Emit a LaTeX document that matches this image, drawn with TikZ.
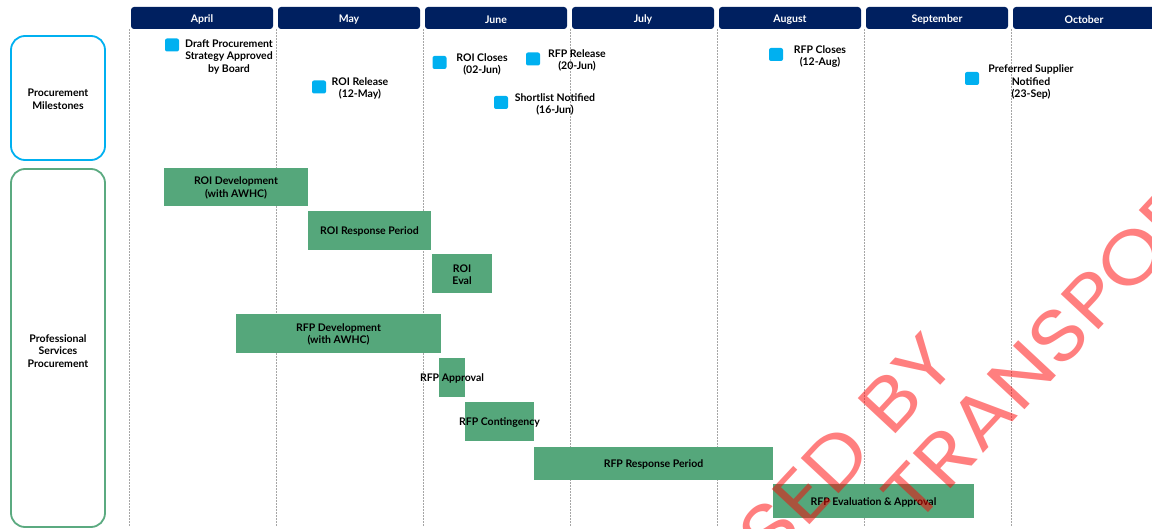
\documentclass[tikz,border=0pt]{standalone}
\usepackage{fontspec}
\setmainfont{Lato}
\newfontfamily\wmfont[FakeStretch=1.14]{Poppins}
\usetikzlibrary{positioning}
\definecolor{hdrnavy}{HTML}{002060}
\definecolor{msblue}{HTML}{00B0F0}
\definecolor{taskgreen}{HTML}{55A77B}
\definecolor{rowgreen}{HTML}{5BAA80}
\begin{document}
\begin{tikzpicture}[x=1pt,y=-1pt,line join=round,
  every node/.style={font=\bfseries\fontsize{10.5}{12.5}\selectfont,align=center,inner sep=0pt},
  lbl/.style={yshift=-1pt},
  month/.style={fill=hdrnavy,text=white,rounded corners=3pt,minimum width=142pt,minimum height=22pt},
  rowbox/.style={draw,line width=1.8pt,rounded corners=14pt,minimum width=94pt},
  msmark/.style={fill=msblue,rounded corners=2pt,minimum width=14pt,minimum height=13pt},
  task/.style={fill=taskgreen},
  grid/.style={gray!70,line width=0.7pt,dash pattern=on 1.5pt off 1.5pt},
  wmark/.style={text=red,text opacity=0.5,font=\wmfont\fontsize{74}{80}\selectfont}]
\useasboundingbox (0,0) rectangle (1152,529);
\clip (0,0) rectangle (1152,529);
% month headers and grid
\foreach \k/\mon in {0/April,1/May,2/June,3/July,4/August,5/September,6/October}{
  \node[month] (m\k) at ({202+147*\k},18) {};
  \node[text=white,yshift=-1.5pt] (m\k-t) at (m\k) {\mon};
  \draw[grid] ([xshift=-1.5pt]m\k.south west) -- ++(0,497);
}
% rows
\node[rowbox,draw=msblue,minimum height=124pt] (ms) at (58,98) {};
\node[lbl] (ms-t) at (ms) {Procurement\\Milestones};
\node[rowbox,draw=rowgreen,minimum height=358pt] (ps) at (58,348) {};
\node[lbl] (ps-t) at (58,350) {Professional\\Services\\Procurement};
% milestones
\foreach \nm/\sx/\sy/\lx/\ly/\txt in {
  draft/172/45/229/56/{Draft Procurement\\Strategy Approved\\by Board},
  roirel/319/87/360/87.5/{ROI Release\\(12-May)},
  roicl/439.5/62.5/482/63.5/{ROI Closes\\(02-Jun)},
  rfprel/533/59/577/59.5/{RFP Release\\(20-Jun)},
  short/501/102.5/555/103.5/{Shortlist Notified\\(16-Jun)},
  rfpcl/776/54.5/820/55.5/{RFP Closes\\(12-Aug)},
  pref/972/78.5/1031/81/{Preferred Supplier\\Notified\\(23-Sep)}}{
  \node[msmark] (\nm) at (\sx,\sy) {};
  \node[lbl] (\nm-l) at (\lx,\ly) {\txt};
}
% tasks
\foreach \nm/\xa/\ya/\xb/\yb/\txt in {
  roidev/164/168/308/206/{ROI Development\\(with AWHC)},
  roiresp/308/211/431/250/{ROI Response Period},
  roieval/432/254/492/293/{ROI\\Eval},
  rfpdev/236/314/441/353/{RFP Development\\(with AWHC)},
  rfpapp/439/358/465/397/{RFP Approval},
  rfpcont/465/402/534/441/{RFP Contingency},
  rfpresp/534/447/773/480/{RFP Response Period},
  rfpeval/773/484/974/518/{RFP Evaluation \& Approval}}{
  \fill[task] (\xa,\ya) rectangle (\xb,\yb);
  \node[lbl] (\nm) at ({(\xa+\xb)/2},{(\ya+\yb)/2}) {\txt};
}
% watermark
\node[wmark,rotate=47,anchor=base east] (wm1) at (960,364) {SED BY};
\node[wmark,rotate=47,anchor=base west] (wm2) at (915,527) {TRANSPOR};
\end{tikzpicture}
\end{document}
